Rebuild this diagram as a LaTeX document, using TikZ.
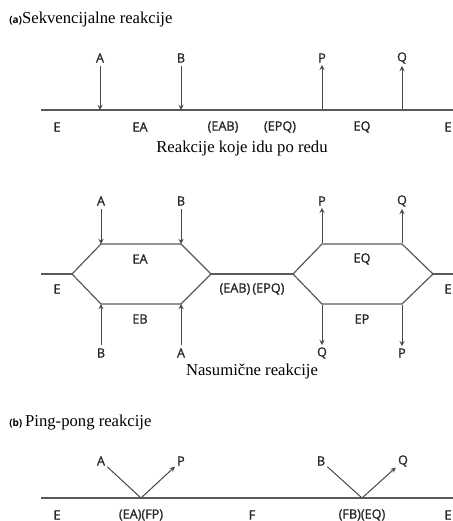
\documentclass[tikz,border=0pt]{standalone}
\usepackage{fontspec}
\setmainfont{Liberation Serif}
\setsansfont{Open Sans}
\newfontfamily\lblfont{Open Sans}[FakeBold=1.2]
\begin{document}
\begin{tikzpicture}[x=0.75pt,y=-0.75pt]

\tikzstyle{lbl}=[font=\lblfont\fontsize{9.5}{11}\selectfont, text=black!85, inner sep=1.5pt]
\tikzstyle{ttl}=[font=\fontsize{12.5}{14}\selectfont, anchor=west, inner sep=0pt]
\tikzstyle{line}=[draw=black!65, line width=0.9pt]
\tikzstyle{arrow}=[->, >=stealth, draw=black!72, line width=0.75pt, shorten <=1pt]

\useasboundingbox (0,0) rectangle (453,521);

% (a) sekvencijalne
\node (T1) [ttl] at (9,19) {{\sffamily\bfseries\fontsize{7.5}{8}\selectfont(a)}Sekvencijalne reakcije};

\coordinate (s0) at (41,110);
\coordinate (s1) at (453,110);
\coordinate (sA) at (100,110);
\coordinate (sB) at (181,110);
\coordinate (sP) at (322,110);
\coordinate (sQ) at (402,110);

\node (A1) [lbl] at (100,58) {A};
\node (B1) [lbl] at (181,58) {B};
\node (P1) [lbl] at (322,58) {P};
\node (Q1) [lbl] at (402,58) {Q};

\draw [line] (s0) -- (s1);
\draw [arrow] (A1) -- (sA);
\draw [arrow] (B1) -- (sB);
\draw [arrow] (sP) -- (P1);
\draw [arrow] (sQ) -- (Q1);

\node (E1)   [lbl] at (57,127)  {E};
\node (EA1)  [lbl] at (140,127) {EA};
\node (EAB1) [lbl] at (223,127) {(EAB)};
\node (EPQ1) [lbl] at (280,127) {(EPQ)};
\node (EQ1)  [lbl] at (362,127) {EQ};
\node (E2)   [lbl] at (448,127) {E};

\node (C1) [font=\fontsize{12.5}{14}\selectfont] at (242,148) {Reakcije koje idu po redu};

% nasumicne
\coordinate (r0) at (41,274);
\coordinate (h1l) at (72,274);
\coordinate (h1a) at (101,244);
\coordinate (h1b) at (181,244);
\coordinate (h1r) at (211,274);
\coordinate (h1c) at (181,304);
\coordinate (h1d) at (101,304);
\coordinate (h2l) at (293,274);
\coordinate (h2a) at (322,244);
\coordinate (h2b) at (402,244);
\coordinate (h2r) at (433,274);
\coordinate (h2c) at (402,304);
\coordinate (h2d) at (322,304);
\coordinate (r1) at (453,274);

\draw [line] (r0) -- (h1l);
\draw [line] (h1l) -- (h1a) -- (h1b) -- (h1r) -- (h1c) -- (h1d) -- cycle;
\draw [line] (h1r) -- (h2l);
\draw [line] (h2l) -- (h2a) -- (h2b) -- (h2r) -- (h2c) -- (h2d) -- cycle;
\draw [line] (h2r) -- (r1);

\node (A2) [lbl] at (101,201) {A};
\node (B2) [lbl] at (181,201) {B};
\node (P2) [lbl] at (322,201) {P};
\node (Q2) [lbl] at (402,201) {Q};
\node (B3) [lbl] at (101,353) {B};
\node (A3) [lbl] at (181,353) {A};
\node (Q3) [lbl] at (322,353) {Q};
\node (P3) [lbl] at (402,353) {P};

\draw [arrow] (A2) -- (h1a);
\draw [arrow] (B2) -- (h1b);
\draw [arrow] (h2a) -- (P2);
\draw [arrow] (h2b) -- (Q2);
\draw [arrow] (B3) -- (h1d);
\draw [arrow] (A3) -- (h1c);
\draw [arrow] (h2d) -- (Q3);
\draw [arrow] (h2c) -- (P3);

\node (EA2) [lbl] at (140,259) {EA};
\node (EB2) [lbl] at (140,319) {EB};
\node (EQ2) [lbl] at (362,259) {EQ};
\node (EP2) [lbl] at (362,319) {EP};
\node (E3)  [lbl] at (57,289)  {E};
\node (E4)  [lbl] at (448,289) {E};
\node (X2)  [lbl] at (252,289) {(EAB)\,(EPQ)};

\node (C2) [font=\fontsize{12.5}{14}\selectfont] at (252,371) {Nasumične reakcije};

% (b) ping-pong
\node (T2) [ttl] at (9,423) {{\sffamily\bfseries\fontsize{7.5}{8}\selectfont(b)}\,Ping-pong reakcije};

\coordinate (p0) at (41,498);
\coordinate (p1) at (453,498);
\coordinate (v1) at (141,498);
\coordinate (v2) at (362,498);

\draw [line] (p0) -- (p1);

\node (A4) [lbl] at (101,461) {A};
\node (P4) [lbl] at (181,461) {P};
\node (B4) [lbl] at (321,461) {B};
\node (Q4) [lbl] at (403,461) {Q};

\draw [line, draw=black!72, line width=0.75pt] (A4) -- (v1);
\draw [arrow] (v1) -- (P4);
\draw [line, draw=black!72, line width=0.75pt] (B4) -- (v2);
\draw [arrow] (v2) -- (Q4);

\node (E5)  [lbl] at (57,515)  {E};
\node (X4)  [lbl] at (141,515) {(EA)(FP)};
\node (F4)  [lbl] at (252,515) {F};
\node (X5)  [lbl] at (362,515) {(FB)(EQ)};
\node (E6)  [lbl] at (448,515) {E};

\end{tikzpicture}
\end{document}
